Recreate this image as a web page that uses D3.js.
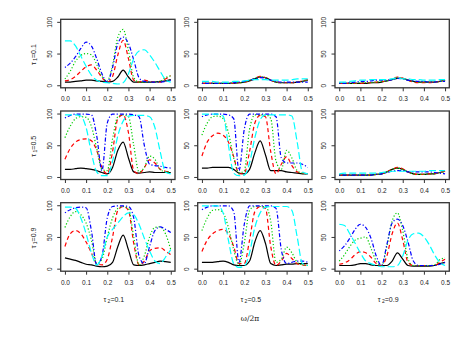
<!DOCTYPE html>
<html><head><meta charset="utf-8">
<script src="https://cdn.jsdelivr.net/npm/d3@7"></script>
<style>
body{margin:0;background:#fff}
svg{display:block}
text{font-family:"Liberation Sans",Arial,sans-serif;fill:#222}
</style>
</head><body>
<svg id="chart" width="457" height="343"></svg>
<script>
// ---- data ----
const freq = [0,0.025,0.05,0.075,0.1,0.125,0.15,0.175,0.2,0.225,0.25,0.275,0.3,0.325,0.35,0.375,0.4,0.425,0.45,0.475,0.5];
const xTicks = [0,0.1,0.2,0.3,0.4,0.5];
const yTicks = [0,50,100];
const tau1Labels = ["0.1","0.5","0.9"];
const tau2Labels = ["0.1","0.5","0.9"];
const seriesColors = ["#000000","#ff0000","#00cd00","#0000ff","#00ffff"];
const seriesDash = [null,"4,3","1.2,2","1.2,2,4,2","7,3"];

// each panel: [black, red, green, blue, cyan]
const p11 = [
 [5,5,6,7,8,8,7,6,5,6,13,24,13,5,5,5,5,5,6,7,9],
 [7,9,14,22,29,32,24,12,5,14,48,71,42,8,5,8,6,5,5,10,15],
 [10,22,38,47,50,48,33,14,7,32,76,88,55,12,5,5,5,5,6,12,15],
 [28,35,45,58,68,62,42,18,5,28,66,76,66,40,12,6,5,5,5,6,8],
 [70,70,62,46,30,16,8,5,4,3,2,4,18,42,54,56,48,36,22,9,5]
];
const p12 = [
 [3,3,3,3,3,3,3,4,5,7,10,13,12,8,5,4,4,4,5,6,8],
 [3,3,3,3,3,3,3,4,5,7,11,14,12,8,5,4,4,4,5,7,9],
 [3,3,3,3,3,3,4,4,5,8,11,13,12,8,5,4,4,4,5,6,8],
 [3,3,3,3,3,3,4,5,6,8,10,12,11,8,6,5,5,5,5,5,5],
 [6,6,6,5,5,5,6,6,7,8,9,9,9,8,8,8,8,9,10,10,10]
];
const p13 = [
 [3,3,3,3,3,3,4,4,5,7,9,11,11,8,6,5,5,5,5,6,8],
 [3,3,3,3,3,4,4,5,6,7,10,13,11,8,5,4,4,4,5,6,8],
 [3,3,3,3,4,4,4,5,6,7,10,12,11,8,6,5,5,5,5,6,8],
 [3,3,4,5,6,6,7,8,8,8,9,11,10,8,7,6,6,5,5,6,6],
 [5,5,6,7,8,8,9,9,9,9,10,12,10,10,9,9,8,8,8,9,9]
];
const p21 = [
 [12,12,13,14,13,12,10,7,5,15,42,55,30,8,6,7,8,7,7,7,7],
 [28,45,55,59,60,57,42,15,5,40,92,98,70,10,5,15,27,22,12,9,8],
 [62,80,92,95,94,80,45,12,10,60,95,98,95,50,8,15,33,28,12,8,8],
 [93,97,99,99,99,98,65,10,85,99,99,99,99,98,95,50,20,18,17,15,14],
 [98,98,98,96,78,38,8,2,2,25,65,88,96,97,97,97,95,78,40,8,5]
];
const p22 = [
 [14,14,15,15,15,15,12,6,5,12,38,57,35,10,10,10,8,7,6,5,5],
 [33,55,65,69,66,55,32,5,6,40,85,97,95,40,5,20,32,18,8,6,5],
 [66,85,95,96,92,70,30,6,10,75,98,98,98,92,25,12,42,30,10,6,5],
 [95,98,99,99,99,98,92,10,75,99,99,99,99,99,95,30,22,22,22,20,15],
 [99,99,99,99,96,50,6,2,3,22,62,90,98,98,98,98,98,96,55,8,5]
];
const p23 = [
 [3,3,3,3,3,3,3,4,5,8,12,14,12,8,5,4,4,5,5,7,9],
 [3,3,3,3,3,3,3,4,5,8,12,15,13,8,5,4,4,5,5,7,9],
 [3,3,3,3,3,3,3,4,5,8,12,14,12,8,5,4,4,5,5,7,8],
 [3,3,3,3,3,3,3,4,5,7,9,10,10,8,8,8,8,8,7,6,5],
 [5,6,6,6,6,6,6,6,7,8,9,9,9,9,9,9,9,10,10,10,10]
];
const p31 = [
 [17,15,13,10,7,6,4,3,4,10,35,53,30,6,5,6,8,10,12,11,10],
 [35,55,60,55,42,25,8,6,15,50,92,98,92,40,6,12,28,32,33,28,22],
 [65,82,90,85,72,45,8,15,50,80,95,98,95,50,6,20,50,65,66,55,30],
 [88,93,96,97,96,60,6,20,80,98,99,99,98,80,20,8,35,60,66,62,57],
 [97,97,95,80,55,25,6,20,50,62,72,82,88,85,70,48,28,12,8,18,30]
];
const p32 = [
 [10,10,10,11,12,10,6,5,5,12,42,60,40,8,5,6,7,7,8,8,8],
 [27,45,55,60,62,55,35,8,8,45,90,98,95,35,5,12,24,16,8,6,5],
 [60,80,92,93,88,65,30,6,40,92,98,98,98,75,10,15,34,25,10,6,5],
 [93,97,99,99,99,99,90,10,70,99,99,99,99,99,95,30,8,10,12,12,10],
 [99,99,99,99,88,45,8,2,4,25,65,88,97,98,98,98,98,92,50,8,5]
];
const p33 = [
 [5,5,5,6,8,8,6,5,5,5,12,25,15,5,4,4,4,4,5,8,10],
 [7,9,14,22,27,25,18,8,5,20,55,72,45,10,5,5,5,5,5,10,15],
 [12,22,35,45,48,50,32,12,5,35,75,88,60,15,5,5,5,5,6,14,17],
 [28,36,48,62,70,65,48,20,5,38,72,78,68,42,12,5,5,5,5,7,10],
 [70,68,55,40,25,12,8,5,3,3,3,5,20,45,55,56,50,38,22,10,5]
];
const grid = [[p11,p12,p13],[p21,p22,p23],[p31,p32,p33]];

// ---- layout ----
const colX = [60.7, 197.7, 335];
const rowY = [19.3, 111, 202.7];
const pw = 114.3, ph = 68.5;

const svg = d3.select("#chart");
const x = d3.scaleLinear().domain([-0.02, 0.52]).range([0, pw]);
const y = d3.scaleLinear().domain([-4, 104]).range([ph, 0]);
const line = d3.line().x((d,i)=>x(freq[i])).y(d=>y(d)).curve(d3.curveMonotoneX);

grid.forEach((row, r) => {
  row.forEach((panel, c) => {
    const g = svg.append("g").attr("transform", `translate(${colX[c]},${rowY[r]})`);
    // series
    panel.forEach((vals, s) => {
      g.append("path").datum(vals).attr("d", line)
        .attr("fill","none").attr("stroke", seriesColors[s])
        .attr("stroke-width", 1.2)
        .attr("stroke-dasharray", seriesDash[s]);
    });
    // box
    g.append("rect").attr("x",0).attr("y",0).attr("width",pw).attr("height",ph)
      .attr("fill","none").attr("stroke","#333").attr("stroke-width",1.3);
    // x axis
    const ax = g.append("g").attr("transform",`translate(0,${ph})`)
      .call(d3.axisBottom(x).tickValues(xTicks).tickFormat(d3.format(".1f")).tickSize(3.5).tickPadding(5.5));
    ax.select(".domain").remove();
    ax.selectAll("line").attr("stroke","#333");
    ax.selectAll("text").attr("font-size",6.5).attr("font-family",null).style("fill","#222");
    // y axis
    const ay = g.append("g")
      .call(d3.axisLeft(y).tickValues(yTicks).tickSize(3.5).tickFormat(""));
    ay.select(".domain").remove();
    ay.selectAll("line").attr("stroke","#333");
    ay.selectAll(".tick").append("text")
      .attr("transform","translate(-11.4,0) rotate(-90)")
      .attr("text-anchor","middle").attr("dy","0.35em")
      .attr("font-size",6.5).style("fill","#222")
      .text(d=>d);
    // row label
    if (c === 0) {
      const t = svg.append("text")
        .attr("transform",`translate(33.3,${rowY[r]+ph/2+1}) rotate(-90)`)
        .attr("text-anchor","middle").attr("dy","0.35em").attr("font-size",7);
      t.append("tspan").text("τ");
      t.append("tspan").attr("font-size",5).attr("dy","1.5").text(" 1");
      t.append("tspan").attr("dy","-1.5").text("=" + tau1Labels[r]);
    }
    // column label
    if (r === 2) {
      const t = svg.append("text")
        .attr("x", colX[c] + pw/2 - 4).attr("y", 301.5)
        .attr("text-anchor","middle").attr("font-size",7);
      t.append("tspan").text("τ");
      t.append("tspan").attr("font-size",5).attr("dy","1.5").text(" 2");
      t.append("tspan").attr("dy","-1.5").text("=" + tau2Labels[c]);
    }
  });
});

svg.append("text").attr("x", 250).attr("y", 321)
  .attr("text-anchor","middle").attr("font-size",7.5)
  .style("font-family","'DejaVu Serif','Liberation Serif',serif")
  .text("ω/2π");
</script>
</body></html>
